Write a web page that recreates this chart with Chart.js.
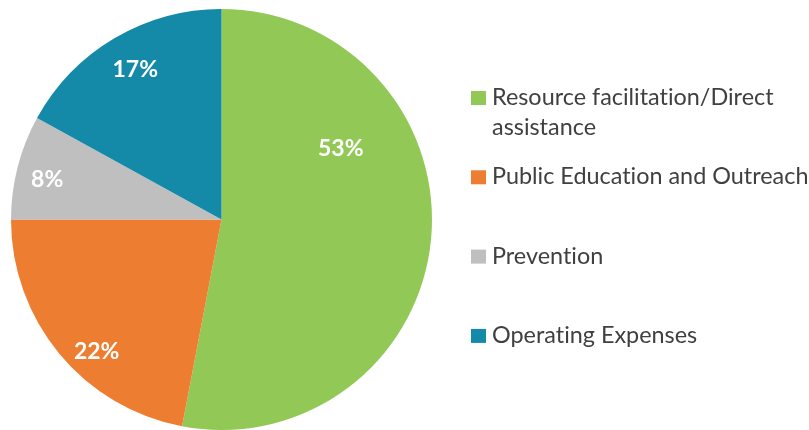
<!DOCTYPE html>
<html>
<head>
<meta charset="utf-8">
<script src="https://cdn.jsdelivr.net/npm/chart.js@4.4.1/dist/chart.umd.min.js"></script>
<style>
  html, body { margin: 0; padding: 0; background: #ffffff; }
  #wrap { position: relative; width: 809px; height: 430px; }
</style>
</head>
<body>
<div id="wrap"><canvas id="chart" width="809" height="430"></canvas></div>
<script>
// Budget allocation by program area (percent of total)
const categories = [
  'Resource facilitation/Direct assistance',
  'Public Education and Outreach',
  'Prevention',
  'Operating Expenses'
];
const shares = [53, 22, 8, 17];
const sliceColors = ['#92C956', '#ED7D31', '#BFBFBF', '#158AA8'];

// Where each percentage sits inside its slice:
// "along" = fraction of the slice sweep, "depth" = fraction of the radius
const labelAnchors = [
  { along: 0.31, depth: 0.66 },
  { along: 0.41, depth: 0.865 },
  { along: 0.45, depth: 0.85 },
  { along: 0.51, depth: 0.82 }
];

const FONT = 'Lato, "Open Sans", "DejaVu Sans", sans-serif';

// Percent labels drawn in white on top of each slice
const sliceLabels = {
  id: 'sliceLabels',
  afterDatasetsDraw(chart) {
    const { ctx } = chart;
    const meta = chart.getDatasetMeta(0);
    ctx.save();
    ctx.fillStyle = '#ffffff';
    ctx.font = 'bold 23px ' + FONT;
    ctx.textAlign = 'center';
    ctx.textBaseline = 'middle';
    meta.data.forEach((arc, i) => {
      const p = arc.getProps(['x', 'y', 'startAngle', 'endAngle', 'outerRadius'], true);
      const a = labelAnchors[i];
      const ang = p.startAngle + (p.endAngle - p.startAngle) * a.along;
      const r = p.outerRadius * a.depth;
      const value = chart.data.datasets[0].data[i];
      ctx.fillText(value + '%', p.x + Math.cos(ang) * r, p.y + Math.sin(ang) * r);
    });
    ctx.restore();
  }
};

// Legend on the right with wrapped entries
const sideLegend = {
  id: 'sideLegend',
  afterDraw(chart) {
    const { ctx } = chart;
    const boxX = 471, box = 14, textX = 492, maxW = 345;
    const firstBaseline = 105, itemGap = 79.3, lineH = 30;
    ctx.save();
    ctx.font = '23.4px ' + FONT;
    if ('textRendering' in ctx) ctx.textRendering = 'optimizeSpeed';
    ctx.textAlign = 'left';
    ctx.textBaseline = 'alphabetic';
    chart.data.labels.forEach((label, i) => {
      const base = firstBaseline + i * itemGap;
      ctx.fillStyle = chart.data.datasets[0].backgroundColor[i];
      ctx.fillRect(boxX, base - box, box + 1, box);
      // wrap words into lines that fit the legend width
      const words = label.split(' ');
      const lines = [];
      let cur = '';
      words.forEach(w => {
        const test = cur ? cur + ' ' + w : w;
        if (cur && ctx.measureText(test).width > maxW) { lines.push(cur); cur = w; }
        else cur = test;
      });
      lines.push(cur);
      ctx.fillStyle = '#404040';
      lines.forEach((ln, k) => ctx.fillText(ln, textX, base + k * lineH));
    });
    ctx.restore();
  }
};

new Chart(document.getElementById('chart'), {
  type: 'pie',
  data: {
    labels: categories,
    datasets: [{
      data: shares,
      backgroundColor: sliceColors,
      borderWidth: 0
    }]
  },
  options: {
    responsive: false,
    animation: false,
    layout: { padding: { left: 11, top: 9, right: 377, bottom: 0 } },
    plugins: {
      legend: { display: false },
      tooltip: { enabled: false }
    }
  },
  plugins: [sliceLabels, sideLegend]
});
</script>
</body>
</html>
